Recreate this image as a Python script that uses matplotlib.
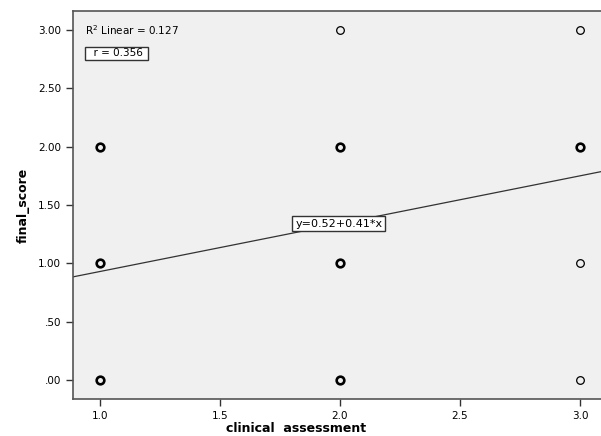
import matplotlib
matplotlib.use("Agg")
import matplotlib.pyplot as plt
import numpy as np

# data
clinical = [1, 1, 1, 2, 2, 2, 2, 3, 3, 3, 3]
final = [0, 1, 2, 0, 1, 2, 3, 0, 1, 2, 3]
multiple = [True, True, True, True, True, True, False, False, False, True, False]
intercept = 0.52
slope = 0.41
r2_text = "R$^2$ Linear = 0.127"
r_text = "r = 0.356"
eq_text = "y=0.52+0.41*x"
xticks = [1.0, 1.5, 2.0, 2.5, 3.0]
xticklabels = ["1.0", "1.5", "2.0", "2.5", "3.0"]
yticks = [0, 0.5, 1, 1.5, 2, 2.5, 3]
yticklabels = [".00", ".50", "1.00", "1.50", "2.00", "2.50", "3.00"]

fig = plt.figure(figsize=(6.01, 4.36), dpi=100)
fig.patch.set_facecolor("white")
W, H = 601, 436
left, right, top, bottom = 73, 601, 11, 399
ax = fig.add_axes([left / W, (H - bottom) / H, (right - left) / W, (bottom - top) / H])
ax.set_facecolor("#f0f0f0")

xmin, xmax = 0.8875, 3.0875
ymin, ymax = -0.163, 3.163
ax.set_xlim(xmin, xmax)
ax.set_ylim(ymin, ymax)

for x, y, m in zip(clinical, final, multiple):
    ax.plot(x, y, marker="o", markersize=5.5, markerfacecolor="none",
            markeredgecolor="black", markeredgewidth=1.9 if m else 0.9,
            linestyle="none", zorder=3)

xs = np.array([xmin, xmax])
ax.plot(xs, intercept + slope * xs, color="#333333", linewidth=0.9, zorder=2)

ax.set_xticks(xticks)
ax.set_xticklabels(xticklabels)
ax.set_yticks(yticks)
ax.set_yticklabels(yticklabels)
ax.tick_params(axis="both", direction="out", length=5, width=1, labelsize=7.5,
               colors="#333333", labelcolor="black")
for s in ["top", "left", "bottom"]:
    ax.spines[s].set_color("#555555")
    ax.spines[s].set_linewidth(1.2)
ax.spines["right"].set_visible(False)

ax.set_xlabel("clinical  assessment", fontsize=9, fontweight="bold")
ax.xaxis.set_label_coords((296 - left) / (right - left), (bottom - 422) / (bottom - top))
ax.set_ylabel("final_score", fontsize=9, fontweight="bold", labelpad=6)

ax.text(0.9375, 3.0, r2_text, fontsize=7.5, ha="left", va="center")
ax.text(0.9458, 2.80, "  " + r_text + " ", fontsize=7.5, ha="left", va="center",
        bbox=dict(boxstyle="square,pad=0.15", facecolor="white", edgecolor="#333333", linewidth=1))
ax.text(1.995, intercept + slope * 2.0, eq_text, fontsize=8, ha="center", va="center",
        bbox=dict(boxstyle="square,pad=0.25", facecolor="white", edgecolor="#333333", linewidth=1),
        zorder=4)

fig.savefig("out.png", dpi=100)
